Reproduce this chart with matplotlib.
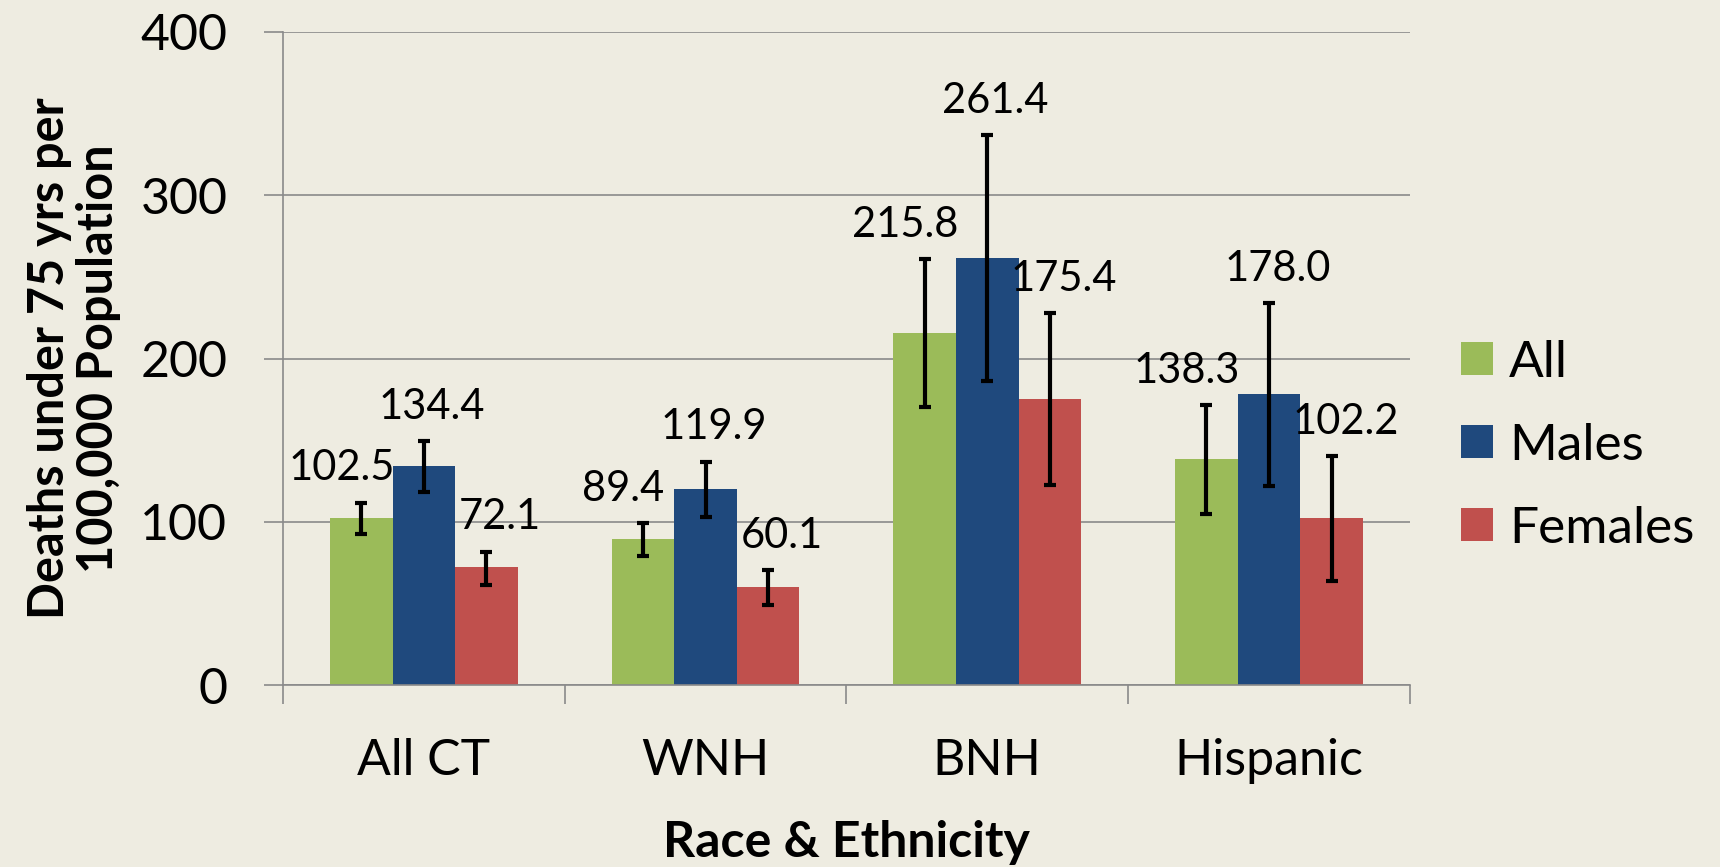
import numpy as np
import matplotlib
matplotlib.use("Agg")
import matplotlib.pyplot as plt

# data
categories = ["All CT", "WNH", "BNH", "Hispanic"]
series_names = ["All", "Males", "Females"]
all_vals = [102.5, 89.4, 215.8, 138.3]
male_vals = [134.4, 119.9, 261.4, 178.0]
female_vals = [72.1, 60.1, 175.4, 102.2]

# confidence limits (lower, upper)
all_low = [92.5, 79.0, 170.5, 104.5]
all_high = [111.7, 99.0, 260.8, 171.5]
male_low = [118.4, 102.7, 186.2, 121.7]
male_high = [149.6, 136.8, 336.7, 234.0]
female_low = [61.3, 48.8, 122.5, 63.7]
female_high = [81.7, 70.4, 227.7, 140.3]

y_ticks = [0, 100, 200, 300, 400]

bg = "#EEECE1"
grid_col = "#8A8A8A"
colors = ["#9BBB59", "#1F497D", "#C0504D"]
label_dx = [-14, 6, 10]  # small per-series nudge of the value labels (points)

plt.rcParams['font.family'] = ['Lato', 'DejaVu Sans']

fig = plt.figure(figsize=(17.2, 8.67), dpi=100, facecolor=bg)
ax = fig.add_axes([0.1645, 0.2099, 0.6552, 0.7532], facecolor=bg)

x = np.arange(len(categories))
bar_w = 2 / 9
vals = [all_vals, male_vals, female_vals]
lows = [all_low, male_low, female_low]
highs = [all_high, male_high, female_high]

for i, (name, v, lo, hi) in enumerate(zip(series_names, vals, lows, highs)):
    v = np.array(v)
    err = [v - np.array(lo), np.array(hi) - v]
    xpos = x + (i - 1) * bar_w
    ax.bar(xpos, v, width=bar_w, color=colors[i], label=name, zorder=2)
    ax.errorbar(xpos, v, yerr=err, fmt='none', ecolor='black', elinewidth=3,
                capsize=4, capthick=3, zorder=3)
    for xp, val, top in zip(xpos, v, hi):
        ax.annotate(f"{val:.1f}", (xp, top), xytext=(label_dx[i], 16),
                    textcoords='offset points', ha='center', va='baseline',
                    fontsize=30, color='black', zorder=4)

ax.set_xlim(-0.5, 3.5)
ax.set_ylim(0, 400)
ax.set_yticks(y_ticks)
ax.tick_params(axis='y', labelsize=36, length=14, width=1.2, color=grid_col, pad=26)
ax.yaxis.grid(True, color=grid_col, linewidth=1.2, zorder=0)
ax.set_axisbelow(True)

# category labels centred, ticks on the boundaries
ax.set_xticks(np.arange(-0.5, 4, 1))
ax.set_xticklabels([])
ax.set_xticks(x, minor=True)
ax.set_xticklabels(categories, minor=True, fontsize=36)
ax.tick_params(axis='x', which='major', length=14, width=1.2, color=grid_col)
ax.tick_params(axis='x', which='minor', length=0, pad=38)

for s in ['top', 'right']:
    ax.spines[s].set_visible(False)
for s in ['left', 'bottom']:
    ax.spines[s].set_color(grid_col)
    ax.spines[s].set_linewidth(1.2)

ax.set_xlabel("Race & Ethnicity", fontsize=36, fontweight='bold', labelpad=26)
ax.set_ylabel("Deaths under 75 yrs per\n100,000 Population", fontsize=35,
              fontweight='bold', linespacing=1.1, labelpad=14)

leg = ax.legend(loc='center left', bbox_to_anchor=(1461 / 1720, 0.486),
                bbox_transform=fig.transFigure,
                frameon=False, fontsize=37, handlelength=0.62, handleheight=0.62,
                handletextpad=0.32, labelspacing=0.72, borderaxespad=0, borderpad=0)

fig.savefig("out.png", dpi=100, facecolor=bg)
